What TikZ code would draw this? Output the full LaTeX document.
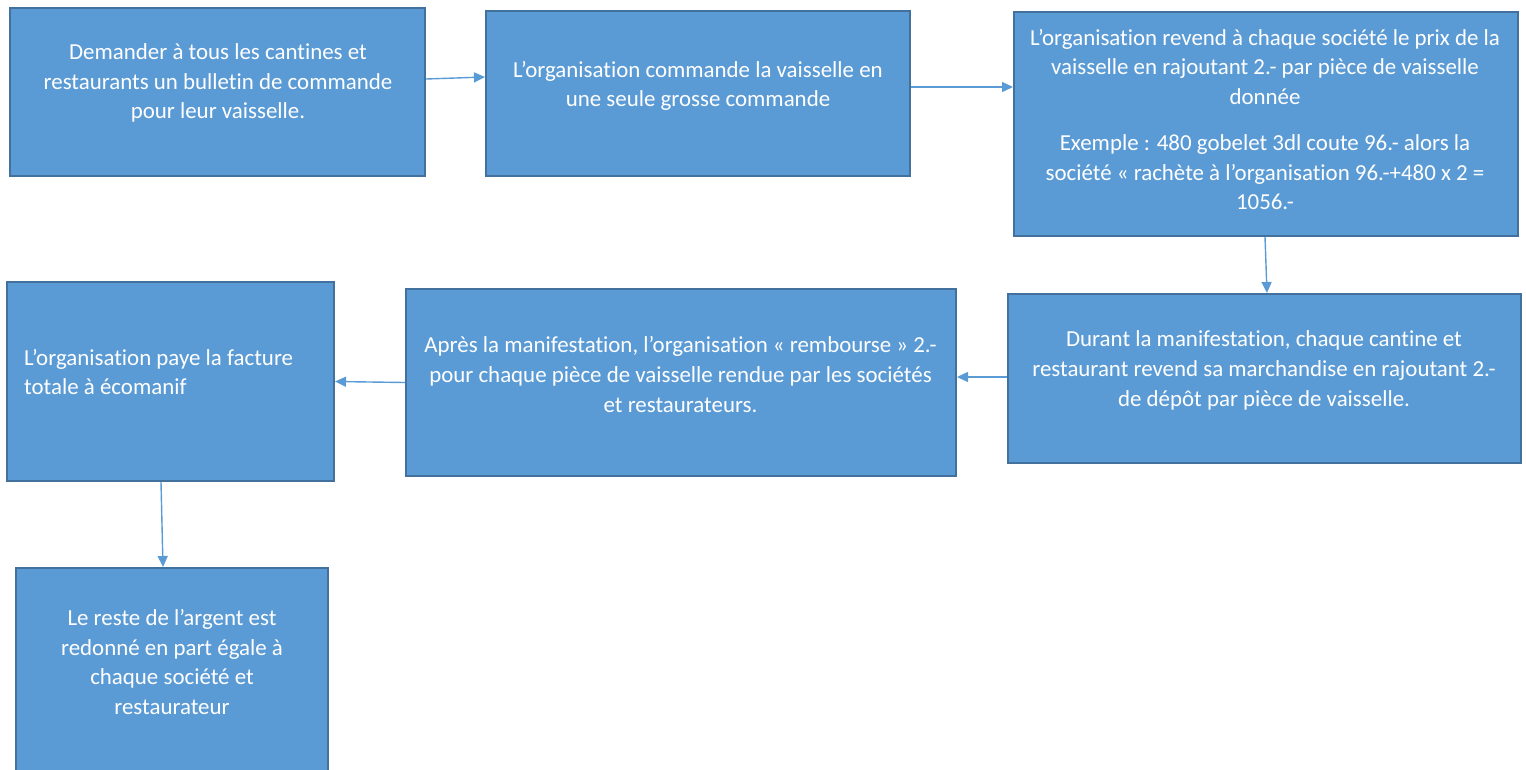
\documentclass[tikz,border=0pt]{standalone}
\usepackage{fontspec}
\setmainfont{Carlito}[Ligatures=CommonOff]
\usetikzlibrary{arrows.meta}
\definecolor{boxfill}{HTML}{5B9BD5}
\definecolor{boxline}{HTML}{41719C}
\definecolor{arrowcol}{HTML}{5B9BD5}
\tikzset{
  stepbox/.style={draw=boxline, fill=boxfill, line width=2pt, rectangle, inner sep=0pt},
  steptext/.style={text=white, inner sep=0pt, align=center, font=\fontsize{22.9}{29.7}\selectfont},
  flow/.style={draw=arrowcol, line width=1.4pt, -{Triangle[length=11pt,width=10pt]}}
}
\begin{document}
\begin{tikzpicture}[x=1pt,y=-1pt]
\useasboundingbox (0,0) rectangle (1526,769);
% boxes
\node[stepbox, minimum width=415pt, minimum height=168pt] (b1) at (217.5,92) {};
\node[stepbox, minimum width=424pt, minimum height=165pt] (b2) at (698,93.5) {};
\node[stepbox, minimum width=504pt, minimum height=224pt] (b3) at (1266,124) {};
\node[stepbox, minimum width=513pt, minimum height=169pt] (b4) at (1264.5,378.5) {};
\node[stepbox, minimum width=550pt, minimum height=187pt] (b5) at (681,382.5) {};
\node[stepbox, minimum width=327pt, minimum height=199pt] (b6) at (170.5,381.5) {};
\node[stepbox, minimum width=312pt, minimum height=222pt] (b7) at (172,679) {};
% texts
\node[steptext] (t1) at (218,83) {Demander à tous les cantines et\\restaurants un bulletin de commande\\pour leur vaisselle.};
\node[steptext] (t2) at (698,86) {L’organisation commande la vaisselle en\\une seule grosse commande};
\node[steptext] (t3) at (1265,119.5) {L’organisation revend à chaque société le prix de la\\vaisselle en rajoutant 2.- par pièce de vaisselle\\donnée\\[16pt]Exemple : 480 gobelet 3dl coute 96.- alors la\\société « rachète à l’organisation 96.-+480 x 2 =\\1056.-};
\node[steptext] (t4) at (1264,370.5) {Durant la manifestation, chaque cantine et\\restaurant revend sa marchandise en rajoutant 2.-\\de dépôt par pièce de vaisselle.};
\node[steptext] (t5) at (680.5,374.5) {Après la manifestation, l’organisation « rembourse » 2.-\\pour chaque pièce de vaisselle rendue par les sociétés\\et restaurateurs.};
\node[steptext, align=left, anchor=west] (t6) at (24,372) {L’organisation paye la facture\\totale à écomanif};
\node[steptext] (t7) at (172,662) {Le reste de l’argent est\\redonné en part égale à\\chaque société et\\restaurateur};
% connectors
\draw[flow] ([yshift=13pt]b1.east) -- ([yshift=16.5pt]b2.west);
\draw[flow] ([yshift=6.5pt]b2.east) -- ([yshift=37pt]b3.west);
\draw[flow] ([xshift=-1pt]b3.south) -- ([xshift=2.5pt]b4.north);
\draw[flow] ([yshift=1.5pt]b4.west) -- ([yshift=5.5pt]b5.east);
\draw[flow] (b5.west) -- (b6.east);
\draw[flow] ([xshift=-9.5pt]b6.south) -- ([xshift=-9pt]b7.north);
\end{tikzpicture}
\end{document}
